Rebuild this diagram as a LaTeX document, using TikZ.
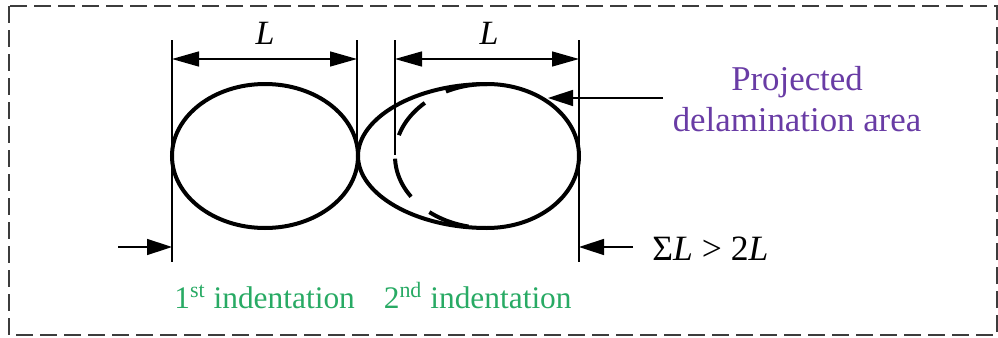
\documentclass[tikz,border=0pt]{standalone}
\usepackage{fontspec}
\setmainfont{Liberation Serif}
\usetikzlibrary{arrows.meta}
\definecolor{delpurple}{RGB}{105,60,165}
\definecolor{indgreen}{RGB}{40,170,100}
\definecolor{framegray}{RGB}{60,60,60}
\tikzset{
  thickline/.style={line width=2pt},
  thinline/.style={line width=0.75pt},
  dimarrow/.style={thinline,{Triangle[length=13.5pt,width=7.5pt]}-{Triangle[length=13.5pt,width=7.5pt]}},
  ptrarrow/.style={thinline,-{Triangle[length=12.5pt,width=8pt]}},
  lbl/.style={inner sep=0pt,font=\fontsize{17}{20}\selectfont},
  slbl/.style={inner sep=0pt,font=\fontsize{17.8}{20}\selectfont},
  glbl/.style={inner sep=0pt,font=\fontsize{15.7}{20}\selectfont,text=indgreen},
  plbl/.style={inner sep=0pt,font=\fontsize{17.4}{20}\selectfont,text=delpurple},
  framebox/.style={draw=framegray,line width=1pt,dash pattern=on 8.5pt off 3.5pt}
}
\begin{document}
\begin{tikzpicture}[x=0.5pt,y=-0.5pt]
\useasboundingbox (0,0) rectangle (998,338);
% frame
\draw[framebox] (9,6) rectangle (997,335);
% first indentation ellipse
\draw[thickline] (265,156) ellipse [x radius=93, y radius=72];
% second indentation: solid right half
\draw[thickline] (487,84) arc[start angle=-90, end angle=90, x radius=92, y radius=72];
% projected delamination contour, left part
\draw[thickline] (487,84) .. controls (415,84) and (358,118) .. (358,156)
                          .. controls (358,194) and (415,228) .. (487,228);
% dashed left half of second indentation
\draw[thickline,dash pattern=on 21pt off 12pt] (487,84) arc[start angle=270, end angle=90, x radius=92, y radius=72];
% dimension coordinates
\coordinate (a1) at (172,40);  \coordinate (a2) at (172,262);
\coordinate (b1) at (357,40);  \coordinate (b2) at (357,150);
\coordinate (c1) at (395,40);  \coordinate (c2) at (395,155);
\coordinate (d1) at (579,40);  \coordinate (d2) at (579,262);
\draw[thinline] (a1) -- (a2);
\draw[thinline] (b1) -- (b2);
\draw[thinline] (c1) -- (c2);
\draw[thinline] (d1) -- (d2);
\coordinate (da) at (172,59); \coordinate (db) at (357,59);
\coordinate (dc) at (395,59); \coordinate (dd) at (579,59);
\draw[dimarrow] (da) -- (db);
\draw[dimarrow] (dc) -- (dd);
\node[lbl,anchor=base] (L1) at (265,44) {\textit{L}};
\node[lbl,anchor=base] (L2) at (489,44) {\textit{L}};
% sum arrows
\coordinate (sl0) at (118,247); \coordinate (sl1) at (172,247);
\coordinate (sr0) at (633,247); \coordinate (sr1) at (579,247);
\draw[ptrarrow] (sl0) -- (sl1);
\draw[ptrarrow] (sr0) -- (sr1);
\node[slbl,anchor=base west] (sum) at (652,260) {Σ\textit{L} > 2\textit{L}};
% projected delamination area pointer
\coordinate (p0) at (663,98); \coordinate (p1) at (548,98);
\draw[ptrarrow] (p0) -- (p1);
\node[plbl,anchor=base] (proj) at (797,90) {Projected};
\node[plbl,anchor=base] (dela) at (797,131.5) {delamination area};
% indentation labels
\node[glbl,anchor=base west] (ind1) at (174,308) {1\textsuperscript{st} indentation};
\node[glbl,anchor=base east] (ind2) at (572,308) {2\textsuperscript{nd} indentation};
\end{tikzpicture}
\end{document}
